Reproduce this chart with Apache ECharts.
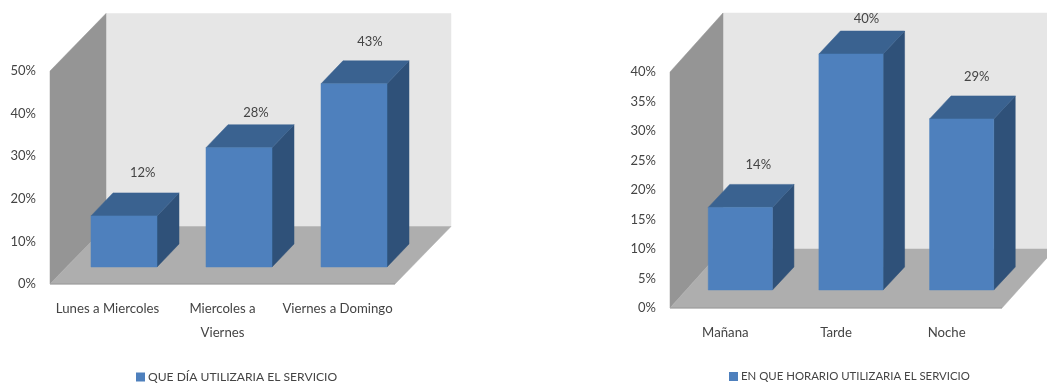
<!DOCTYPE html>
<html><head><meta charset="utf-8">
<style>html,body{margin:0;padding:0;background:#fff;overflow:hidden}#c{width:1047px;height:385px;filter:blur(0.45px)}</style>
<script src="https://cdn.jsdelivr.net/npm/echarts@6/dist/echarts.min.js"></script>
</head><body><div id="c"></div>
<script>
const dayCategories = ['Lunes a Miercoles', 'Miercoles a\nViernes', 'Viernes a Domingo'];
const dayValues = [12, 28, 43];
const dayLegend = 'QUE DÍA UTILIZARIA EL SERVICIO';
const hourCategories = ['Mañana', 'Tarde', 'Noche'];
const hourValues = [14, 40, 29];
const hourLegend = 'EN QUE HORARIO UTILIZARIA EL SERVICIO';

const FONT = 'Lato,"Liberation Sans",sans-serif';
const TXT = '#444444';
const C = {back:'#e6e6e6', wall:'#959595', floor:'#aeaeae', edge:'#999999', front:'#4e80bd', side:'#2f5179', top:'#3a6290'};

const layouts = [
  {grid:{left:50,top:71,width:345,height:213}, depth:[56,-57.5], off:[16.5,-17], side:[22,-23], ratio:.574,
   nudge:[[18.7,-20],[17,-12],[16,-19]], legend:{left:136,top:371}, legendSize:12.1, max:50, step:10},
  {grid:{left:670,top:72,width:332,height:236}, depth:[53,-59], off:[15,-18], side:[21.5,-23], ratio:.58,
   nudge:[[18,-20],[15.5,-12],[15,-19]], legend:{left:729,top:371}, legendSize:11.4, max:40, step:5}
];
const sets = [[dayCategories,dayValues,dayLegend],[hourCategories,hourValues,hourLegend]];

const poly = (points, fill, z2) => ({type:'polygon', z2:z2||0, shape:{points}, style:{fill, stroke:fill, lineWidth:.5}});

const option = {animation:false, backgroundColor:'#fff',
  grid:[], xAxis:[], yAxis:[], legend:[], series:[]};

layouts.forEach((L,i)=>{
  const [cats,vals,name] = sets[i];
  option.grid.push(L.grid);
  option.xAxis.push({type:'category', gridIndex:i, data:cats,
    axisLine:{show:false}, axisTick:{show:false}, splitLine:{show:false},
    axisLabel:{interval:0, margin:13, color:TXT, fontFamily:FONT, fontSize:13.2, lineHeight:24}});
  option.yAxis.push({type:'value', gridIndex:i, min:0, max:L.max, interval:L.step,
    axisLine:{show:false}, axisTick:{show:false}, splitLine:{show:false},
    axisLabel:{margin:14, color:TXT, fontFamily:FONT, fontSize:13, formatter:'{value}%'}});
  option.legend.push({show:true, data:[name], left:L.legend.left, top:L.legend.top, orient:'horizontal',
    icon:'rect', itemWidth:9, itemHeight:9, itemGap:3, padding:0,
    selectedMode:false, textStyle:{color:TXT, fontFamily:FONT, fontSize:L.legendSize, padding:[1,0,0,-2]}});
  // room: walls and floor
  option.series.push({type:'custom', name:'room'+i, xAxisIndex:i, yAxisIndex:i, silent:true, z:1, data:[[0,0]],
    renderItem:(p,api)=>{
      const g=p.coordSys, [dx,dy]=L.depth, x0=g.x, x1=g.x+g.width, yb=g.y+g.height, yt=g.y;
      return {type:'group', children:[
        poly([[x0+dx,yt+dy],[x1+dx,yt+dy],[x1+dx,yb+dy],[x0+dx,yb+dy]],C.back),
        poly([[x0,yb],[x0,yt],[x0+dx,yt+dy],[x0+dx,yb+dy]],C.wall),
        poly([[x0,yb],[x1,yb],[x1+dx,yb+dy],[x0+dx,yb+dy]],C.floor),
        {type:'line', shape:{x1:x0,y1:yb,x2:x1,y2:yb}, style:{stroke:C.edge,lineWidth:1}}
      ]};
    }});
  // bars
  option.series.push({type:'custom', name, xAxisIndex:i, yAxisIndex:i, z:2, itemStyle:{color:C.front},
    encode:{x:0,y:1}, data:vals.map((v,k)=>[k,v]),
    renderItem:(p,api)=>{
      const idx=api.value(0), v=api.value(1);
      const t=api.coord([idx,v]), b=api.coord([idx,0]);
      const w=api.size([1,0])[0]*L.ratio, [ox,oy]=L.off, [sx,sy]=L.side;
      const xl=t[0]+ox-w/2, xr=xl+w, yt=t[1]+oy, yb=b[1]+oy;
      const n=L.nudge[idx];
      return {type:'group', children:[
        poly([[xr,yb],[xr,yt],[xr+sx,yt+sy],[xr+sx,yb+sy]],C.side),
        poly([[xl,yt],[xr,yt],[xr+sx,yt+sy],[xl+sx,yt+sy]],C.top),
        poly([[xl,yt],[xr,yt],[xr,yb],[xl,yb]],C.front),
        {type:'text', style:{text:v+'%', x:t[0]+ox+n[0], y:yt+sy+n[1], align:'center', verticalAlign:'middle',
          fill:TXT, font:'13px '+FONT}}
      ]};
    }});
});
const chart = echarts.init(document.getElementById('c'));
chart.setOption(option);
</script></body></html>
